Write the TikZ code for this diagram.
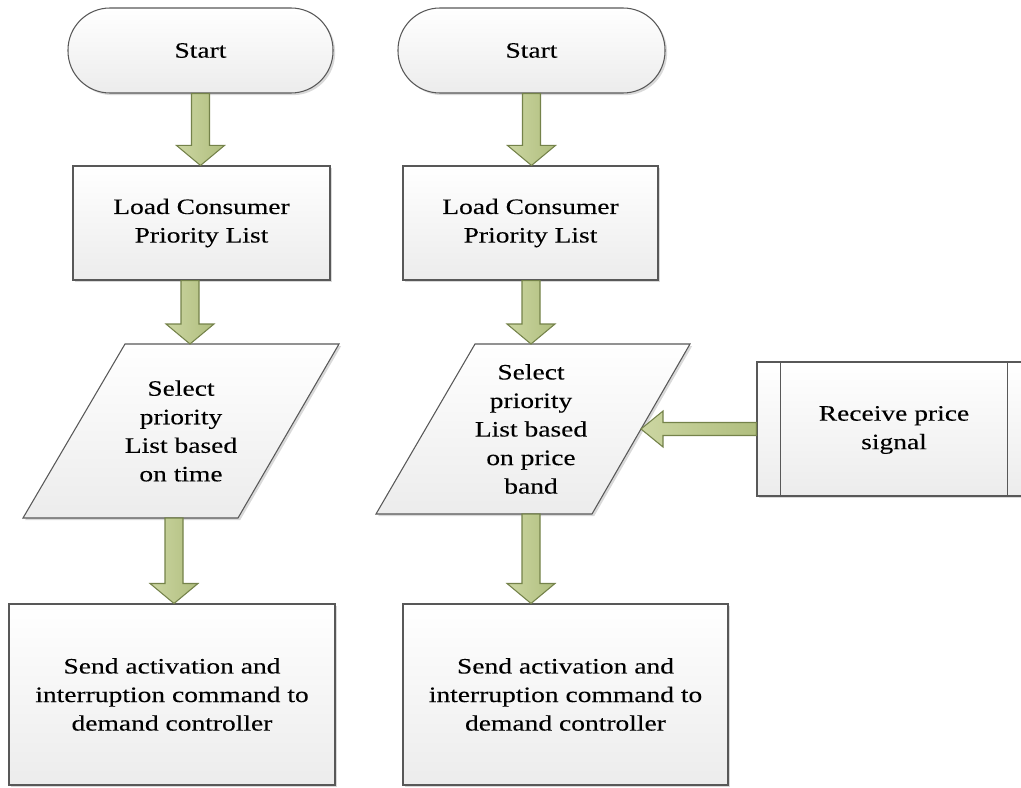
\documentclass[tikz,border=0pt]{standalone}
\usepackage{fontspec}
\newfontfamily\flowfont{Liberation Serif}[FakeStretch=1.25, FakeBold=0.15]
\usetikzlibrary{calc,shadows}

\definecolor{boxline}{RGB}{88,88,88}
\definecolor{boxlow}{RGB}{236,236,236}
\definecolor{arrowlight}{RGB}{204,214,162}
\definecolor{arrowfill}{RGB}{176,190,126}
\definecolor{arrowline}{RGB}{116,130,74}

\newcommand\pu{0.75pt}

\tikzset{
  flowshape/.style={draw=boxline, line width=0.8pt, top color=white, bottom color=boxlow,
    drop shadow={shadow xshift=1.6pt, shadow yshift=-1.6pt, opacity=0.3}},
  flowtext/.style={font=\flowfont\fontsize{16.5pt}{21.4pt}\selectfont, align=center, text=black},
  terminal/.style={flowshape, flowtext, rectangle, rounded corners=31.5pt,
    minimum width=#1*\pu, minimum height=85*\pu, inner sep=0pt},
  procbox/.style 2 args={flowshape, flowtext, rectangle, inner sep=0pt,
    minimum width=#1*\pu, minimum height=#2*\pu},
  blockarrow/.style={draw=arrowline, line width=0.8pt, left color=arrowlight, right color=arrowfill},
}

% vertical block arrow: tail #1, tip #2 (same x)
\newcommand\vblock[2]{%
  \path[blockarrow] ($(#1)+(-9,0)$) -- ($(#2)+(-9,-20)$) -- ($(#2)+(-24,-20)$) -- (#2)
    -- ($(#2)+(24,-20)$) -- ($(#2)+(9,-20)$) -- ($(#1)+(9,0)$) -- cycle;}
% horizontal block arrow pointing left: tail #1, tip #2 (same y)
\newcommand\hblock[2]{%
  \path[blockarrow] ($(#1)+(0,-6.5)$) -- ($(#2)+(22,-6.5)$) -- ($(#2)+(22,-18)$) -- (#2)
    -- ($(#2)+(22,18)$) -- ($(#2)+(22,6.5)$) -- ($(#1)+(0,6.5)$) -- cycle;}

\begin{document}
\begin{tikzpicture}[x=0.75pt,y=-0.75pt]
\useasboundingbox (0,0) rectangle (1021,788);
\clip (0,0) rectangle (1021,788);

% ---------- left flow: time based ----------
\node[terminal=265] (startL) at (200.5,50.5) {Start};
\node[procbox={257}{114}] (loadL) at (201.5,223) {Load Consumer\\Priority List};
\path[flowshape] (125,344) -- (339,344) -- (238,518) -- (23,518) -- cycle;
\node[flowtext] (selL) at (181,431) {Select\\priority\\List based\\on time};
\coordinate (selLin) at (190,344);
\coordinate (selLout) at (174,518);
\node[procbox={326}{181}] (sendL) at (172,694.5)
  {Send activation and\\interruption command to\\demand controller};

% ---------- right flow: price based ----------
\node[terminal=267] (startR) at (531.5,50.5) {Start};
\node[procbox={255}{114}] (loadR) at (530.5,223) {Load Consumer\\Priority List};
\path[flowshape] (475,344) -- (690,344) -- (592,514) -- (376,514) -- cycle;
\node[flowtext] (selR) at (531,429) {Select\\priority\\List based\\on price\\band};
\coordinate (selRin) at (531,344);
\coordinate (selRout) at (531,514);
\coordinate (selRside) at (641,429);
\node[procbox={325}{181}] (sendR) at (565.5,694.5)
  {Send activation and\\interruption command to\\demand controller};

% predefined process: price signal
\node[procbox={273}{134}] (recv) at (893.5,429) {};
\draw[boxline, line width=0.8pt] ($(recv.north west)+(24,0)$) -- ($(recv.south west)+(24,0)$);
\draw[boxline, line width=0.8pt] ($(recv.north east)+(-23,0)$) -- ($(recv.south east)+(-23,0)$);
\node[flowtext] (recvtxt) at (894,430) {Receive price\\signal};

% ---------- block arrows ----------
\coordinate (l1) at (startL.south |- loadL.north);
\vblock{startL.south}{l1}
\coordinate (l2) at (loadL.south -| selLin);
\vblock{l2}{selLin}
\coordinate (l3) at (sendL.north -| selLout);
\vblock{selLout}{l3}

\coordinate (r1) at (startR.south |- loadR.north);
\vblock{startR.south}{r1}
\coordinate (r2) at (loadR.south -| selRin);
\vblock{r2}{selRin}
\coordinate (r3) at (sendR.north -| selRout);
\vblock{selRout}{r3}

\hblock{recv.west}{selRside}
\end{tikzpicture}
\end{document}
